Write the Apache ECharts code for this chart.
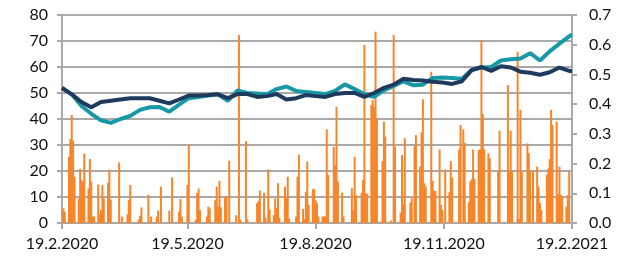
<!DOCTYPE html>
<html>
<head>
<meta charset="utf-8">
<script src="https://cdn.jsdelivr.net/npm/echarts@6/dist/echarts.min.js"></script>
<style>
html,body{margin:0;padding:0;background:#fff;}
#chart{width:633px;height:259px;}
</style>
</head>
<body>
<div id="chart"></div>
<script>
// Period shown (daily calendar axis)
const startDate = '2020-02-19';
const endDate = '2021-02-19';
const xTickLabels = ['19.2.2020', '19.5.2020', '19.8.2020', '19.11.2020', '19.2.2021'];
const leftTicks = { min: 0, max: 80, step: 10 };
const rightTicks = { min: 0, max: 0.7, step: 0.1 };

// Orange bars: one value per weekday (Wed 19.2.2020 ... Fri 19.2.2021), left-axis units
const barValues = [
  0, 5.6, 4.3, 25.5, 32.3,
  41.5, 31.7, 17.8, 9.4, 20.8,
  16.5, 15.9, 26.8, 13.3, 24.6,
  15.9, 2.5, 2.5, 14.9, 3.1,
  5, 14.6, 9.5, 15.5, 20.6,
  9, 0, 0, 0, 23.3,
  0, 2.5, 0, 3.3, 8.8,
  14.6, 0, 0, 0, 1.3,
  2.8, 6, 0, 0, 10.8,
  0, 2.5, 0, 2.5, 4.8,
  0, 14, 0, 0, 0,
  4.8, 0, 17.5, 0, 0,
  4.4, 9.2, 2.5, 0, 14.6,
  30, 0, 0, 1.3, 11.6,
  13.3, 5, 0, 0, 2.5,
  6.3, 5.6, 0, 8.8, 14,
  6.3, 16.2, 6, 10, 10,
  0, 24, 0, 0, 3,
  0, 72.3, 1.3, 0, 31.5,
  1.5, 0, 0, 0, 0,
  7.6, 8.4, 12.4, 11.6, 2,
  0, 20.6, 5.2, 3, 9.5,
  5.8, 15.3, 2, 0, 14,
  10, 17.8, 1.8, 0, 0,
  2.5, 17.8, 26.3, 5.4, 1.5,
  12, 23.7, 7, 13, 13,
  8.8, 7.6, 2.5, 2.5, 2.5,
  2.5, 36, 18.5, 0, 29.3,
  22.3, 44.7, 15.9, 11.7, 2.5,
  0, 0, 0, 13.4, 5,
  25.5, 10.7, 0, 11.6, 16.5,
  68.5, 11.3, 11.3, 45.4, 47.3,
  44.7, 73.6, 40, 0.5, 23.8,
  39, 33.2, 0, 1, 0,
  72.3, 29.3, 0, 4, 26.2,
  7.2, 32.6, 0, 7.8, 9.5,
  0, 29.5, 33.8, 21.7, 34.9,
  47.6, 15.3, 14, 0, 58.2,
  16.2, 12.4, 12.3, 28.3, 7,
  5, 0, 20.6, 11.8, 23.8,
  17.5, 0, 0, 28.3, 37.7,
  0, 36, 30.8, 8, 16,
  16.8, 28.3, 17, 28, 28.3,
  70.4, 41.9, 28.3, 26.8, 24.9,
  0, 0, 0, 19.7, 35.5,
  0, 0, 0, 53, 19.7,
  35.5, 19.7, 0, 65.9, 1.5,
  43.5, 19.7, 0, 30.6, 26.8,
  19.7, 0, 20, 21.7, 14,
  7.7, 5, 0, 18.5, 21,
  24.6, 43.5, 37.7, 39, 10.8,
  21.7, 10.8, 10.3, 6.3, 10.8,
  19.7, 0, 0
];

// Lines: one value per week (every Wednesday from 19.2.2020) plus the final day
const navyWeekly = [
  52, 49.5, 46.5, 44.5, 46.5, 47, 47.5, 48, 48, 48,
  47, 46, 47.5, 49, 49, 49.2, 49.5, 48, 49.6, 49.6,
  48.5, 48.8, 49.6, 47.5, 48, 49.2, 48.8, 48.5, 49.6, 50,
  50, 48.5, 50, 52, 53.2, 55.5, 55, 54.8, 54.3, 54,
  53.5, 54.5, 58.8, 60, 58.5, 60.3, 59.8, 58.2, 57.8, 57,
  58, 59.8, 58.5, 58.5
];
const tealWeekly = [
  52, 49.5, 45, 42, 39.5, 38.5, 40, 41.2, 43.5, 44.5,
  44.6, 42.8, 45.5, 48, 48.5, 49, 49.5, 47, 51, 50,
  49.8, 49.5, 51.5, 52.5, 50.8, 50.4, 50, 49.6, 50.8, 53.3,
  51.5, 49.5, 48.5, 51, 52.7, 54.5, 53, 53.2, 55.8, 56,
  55.8, 55.5, 58.8, 59.8, 60, 62.5, 63, 63.3, 65.3, 62.5,
  66, 69, 71.8, 72.5
];

// ---- build calendar categories ----
const cats = [];
const isWeekday = [];
{
  const d = new Date(startDate + 'T00:00:00Z');
  const e = new Date(endDate + 'T00:00:00Z');
  while (d <= e) {
    cats.push(d.getUTCDate() + '.' + (d.getUTCMonth() + 1) + '.' + d.getUTCFullYear());
    const wd = d.getUTCDay();
    isWeekday.push(wd !== 0 && wd !== 6);
    d.setUTCDate(d.getUTCDate() + 1);
  }
}
const barData = [];
let bi = 0;
for (let i = 0; i < cats.length; i++) {
  if (isWeekday[i] && bi < barValues.length) { barData.push(barValues[bi++]); }
  else barData.push(null);
}
function weeklyToDaily(arr) {
  const out = new Array(cats.length).fill(null);
  for (let k = 0; k < arr.length - 1; k++) out[k * 7] = arr[k];
  out[cats.length - 1] = arr[arr.length - 1];
  return out;
}
const navyData = weeklyToDaily(navyWeekly);
const tealData = weeklyToDaily(tealWeekly);

const gridColor = '#a9a9a9';
const font = { fontFamily: 'Lato', fontSize: 16, color: '#111' };
const showTick = (idx, val) => xTickLabels.indexOf(cats[idx]) >= 0;

const chart = echarts.init(document.getElementById('chart'), null, { renderer: 'canvas' });
chart.setOption({
  animation: false,
  grid: { left: 62, right: 61, top: 15, bottom: 36, containLabel: false },
  xAxis: {
    type: 'category',
    data: cats,
    boundaryGap: false,
    axisLine: { show: true, lineStyle: { color: gridColor, width: 2 } },
    axisTick: { show: true, interval: showTick, length: 6, lineStyle: { color: gridColor, width: 2 } },
    axisLabel: Object.assign({ interval: showTick, margin: 13 }, font),
    splitLine: { show: false }
  },
  yAxis: [
    {
      type: 'value', min: leftTicks.min, max: leftTicks.max, interval: leftTicks.step,
      axisLine: { show: true, lineStyle: { color: gridColor, width: 2 } },
      axisTick: { show: true, length: 5, lineStyle: { color: gridColor, width: 2 } },
      axisLabel: Object.assign({ margin: 14 }, font),
      splitLine: { show: true, lineStyle: { color: gridColor, width: 2 } }
    },
    {
      type: 'value', position: 'right', min: rightTicks.min, max: rightTicks.max, interval: rightTicks.step,
      axisLine: { show: true, lineStyle: { color: gridColor, width: 2 } },
      axisTick: { show: true, length: 5, lineStyle: { color: gridColor, width: 2 } },
      axisLabel: Object.assign({ margin: 17, formatter: v => v.toFixed(1) }, font),
      splitLine: { show: false }
    }
  ],
  series: [
    {
      type: 'bar', yAxisIndex: 0, data: barData,
      barWidth: 2,
      itemStyle: { color: '#f7852a' }
    },
    {
      type: 'line', yAxisIndex: 0, data: tealData, connectNulls: true,
      symbol: 'none', lineStyle: { color: '#1798a6', width: 4 }
    },
    {
      type: 'line', yAxisIndex: 0, data: navyData, connectNulls: true,
      symbol: 'none', lineStyle: { color: '#1e3a5c', width: 4 }
    }
  ]
});
</script>
</body>
</html>
